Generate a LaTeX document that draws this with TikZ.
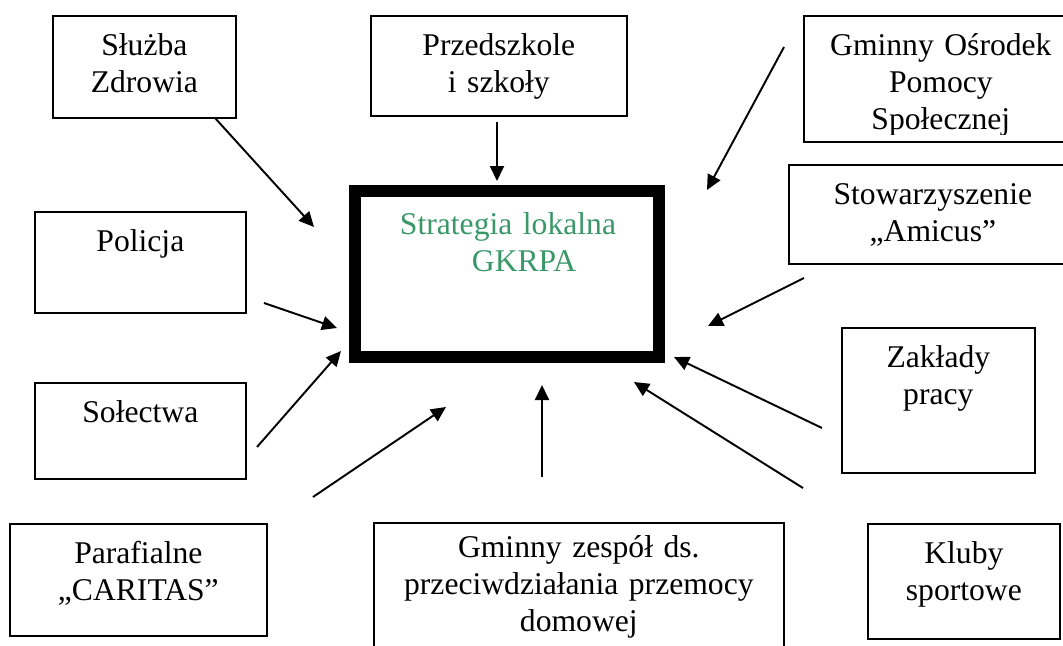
\documentclass[tikz,border=0pt]{standalone}
\usepackage{fontspec}
\setmainfont{Liberation Serif}
\usepackage{tikz}
\usetikzlibrary{arrows.meta}
\definecolor{strYesil}{HTML}{3A9868}

\begin{document}
\begin{tikzpicture}[x=0.02cm,y=-0.02cm,
  kutu/.style={draw,line width=1pt,inner sep=0pt,align=center,text height=0.8cm,
    anchor=north west,font=\fontsize{18}{21}\selectfont},
  ok/.style={line width=1.1pt,-{Triangle[length=0.3cm,width=0.28cm]}}]
\clip (0,0) rectangle (1063,646);
% ortadaki kalin kutu
\node[draw,line width=0.24cm,inner sep=0pt,anchor=north west,text width=6.08cm,
  text height=0.88cm,text depth=2.44cm,align=left,text=strYesil,
  font=\fontsize{18}{21}\selectfont] (strategia) at (349,185)
  {\hspace*{0.9cm}Strategia lokalna\\\hspace*{2.34cm}GKRPA};
% kutular
\node[kutu,text width=3.66cm,text depth=1.24cm] (sluzba) at (52,15) {Służba\\Zdrowia};
\node[kutu,text width=5.12cm,text depth=1.2cm] (przedszkole) at (370,15) {Przedszkole\\i szkoły};
\begin{scope}
\clip (800,0) rectangle (1063,134);
\node[kutu,draw=none,text width=5.48cm,text depth=1.72cm] (gopsTekst) at (803,15)
  {Gminny Ośrodek\\Pomocy\\Społecznej};
\end{scope}
\node[kutu,text width=5.48cm,text depth=1.72cm] (gops) at (803,15) {};
\node[kutu,text width=5.76cm,text depth=1.18cm] (amicus) at (788,164) {Stowarzyszenie\\,,Amicus''};
\node[kutu,text width=4.22cm,text depth=1.22cm] (policja) at (34,211) {Policja};
\node[kutu,text width=4.22cm,text depth=1.12cm] (solectwa) at (34,382) {Sołectwa};
\node[kutu,text width=3.86cm,text depth=2.1cm] (zaklady) at (841,327) {Zakłady\\pracy};
\node[kutu,text width=5.14cm,text depth=1.44cm] (caritas) at (9,523) {Parafialne\\,,CARITAS''};
\node[kutu,text width=8.2cm,text height=0.7cm,text depth=1.96cm] (zespol) at (373,522)
  {Gminny zespół ds.\\przeciwdziałania przemocy\\domowej};
\node[kutu,text width=3.84cm,text depth=1.5cm] (kluby) at (867,523) {Kluby\\sportowe};
% oklarin uclari
\coordinate (sluzbaA) at (215,118);      \coordinate (sluzbaB) at (314,227);
\coordinate (przedszkoleA) at (497,122); \coordinate (przedszkoleB) at (497,181);
\coordinate (gopsA) at (784,47);         \coordinate (gopsB) at (707,190);
\coordinate (amicusA) at (804,278);      \coordinate (amicusB) at (708,326);
\coordinate (policjaA) at (264,303);     \coordinate (policjaB) at (337,328);
\coordinate (solectwaA) at (257,447);    \coordinate (solectwaB) at (341,351);
\coordinate (zakladyA) at (822,428);     \coordinate (zakladyB) at (674,357);
\coordinate (klubyA) at (803,488);       \coordinate (klubyB) at (634,382);
\coordinate (zespolA) at (542,477);      \coordinate (zespolB) at (542,385);
\coordinate (caritasA) at (313,497);     \coordinate (caritasB) at (446,407);
\foreach \k in {sluzba,przedszkole,gops,amicus,policja,solectwa,zaklady,kluby,zespol,caritas}
  \draw[ok] (\k A) -- (\k B);
\end{tikzpicture}
\end{document}
